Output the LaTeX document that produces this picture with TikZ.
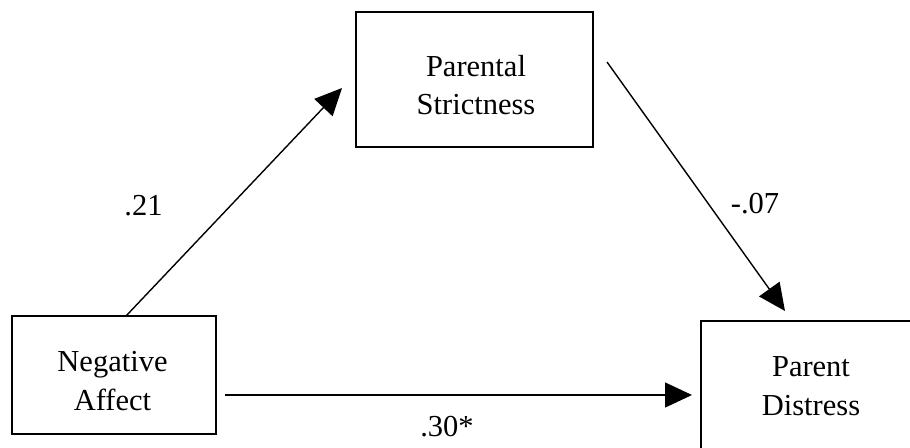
\documentclass[tikz,border=0pt]{standalone}
\usepackage{fontspec}
\setmainfont{Liberation Serif}
\usetikzlibrary{arrows.meta}
\newcommand{\twolines}[2]{\begin{tabular}[t]{@{}c@{}}#1\\#2\end{tabular}}
\tikzset{
  varbox/.style={draw, line width=1.8pt, inner sep=0pt},
  boxtext/.style={anchor=base, inner sep=0pt,
    font=\fontsize{30.5}{38.5}\selectfont},
  patharrow/.style={line width=1.4pt, -{Triangle[length=27pt,width=25pt]}},
  coef/.style={anchor=base, inner sep=0pt, font=\fontsize{30.5}{38.5}\selectfont}
}
\begin{document}
\begin{tikzpicture}[x=1pt,y=-1pt]
\useasboundingbox (0,0) rectangle (910,447);
\clip (0,0) rectangle (910,447);
\node[varbox, minimum width=237pt, minimum height=135pt] (ps) at (474.5,79.5) {};
\node[varbox, minimum width=204pt, minimum height=118pt] (na) at (114,375) {};
\node[varbox, minimum width=240pt, minimum height=150pt] (pd) at (821,396) {};
\node[boxtext] (pst) at (476,76) {\twolines{Parental}{Strictness}};
\node[boxtext] (nat) at (112.5,371.7) {\twolines{Negative}{Affect}};
\node[boxtext] (pdt) at (811,376.7) {\twolines{Parent}{Distress}};
\coordinate (a1s) at (126,316);
\coordinate (a1e) at (342,88);
\coordinate (a2s) at (607,62);
\coordinate (a2e) at (785,311);
\coordinate (a3s) at (225,395);
\coordinate (a3e) at (692,395);
\draw[patharrow] (a1s) -- (a1e);
\draw[patharrow] (a2s) -- (a2e);
\draw[patharrow] (a3s) -- (a3e);
\node[coef] (c1) at (143.5,215) {.21};
\node[coef] (c2) at (755,213) {-.07};
\node[coef] (c3) at (447,436.5) {.30*};
\end{tikzpicture}
\end{document}
